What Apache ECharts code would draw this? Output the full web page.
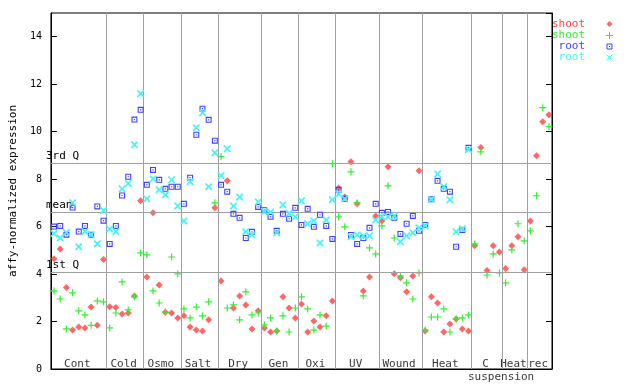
<!DOCTYPE html>
<html><head><meta charset="utf-8">
<script src="https://cdn.jsdelivr.net/npm/echarts@6/dist/echarts.min.js"></script>
<style>html,body{margin:0;padding:0;background:#fff}#c{width:640px;height:384px}</style>
</head><body><div id="c"></div>
<script>
// ---- data ----
const groupNames = ['Cont','Cold','Osmo','Salt','Dry','Gen','Oxi','UV','Wound','Heat','C','Heat','rec'];
const groupBounds = [0,9,15,21,27,34,40,46,53,60,68,73,77,81];
const quartileNames = ['3rd Q','mean','1st Q'];
const quartileValues = [8.69,6.62,4.09];
const yTickValues = [0,2,4,6,8,10,12,14];
const seriesNames = ['shoot','shoot','root','root'];

const shootRed = [4.65,5.06,3.43,1.64,1.77,1.73,2.61,1.84,4.61,
  2.62,2.59,2.32,2.36,3.08,7.09,
  3.88,6.58,3.54,2.39,2.36,2.15,
  2.24,1.77,1.64,1.60,2.07,6.79,
  3.71,7.93,2.57,3.08,2.70,1.69,2.45,
  1.73,1.56,1.60,3.04,2.57,2.15,
  2.74,1.56,2.02,1.77,2.24,2.87,
  7.63,7.25,8.73,6.96,3.29,3.88,6.45,
  6.24,8.52,4.01,3.84,3.25,3.92,8.35,
  1.60,3.04,2.78,1.56,1.90,2.11,1.69,1.60,
  5.19,9.33,4.15,5.19,4.93,
  4.23,5.19,5.57,4.18,
  6.24,8.98,10.42,10.71];
const shootGreen = [3.29,2.95,1.69,3.21,2.45,2.28,1.84,2.87,2.83,
  1.73,2.36,3.67,2.49,3.04,4.89,
  4.81,3.29,2.78,2.40,4.72,4.01,
  2.53,2.15,2.61,2.24,2.83,7.00,
  8.95,2.57,2.70,2.07,3.25,2.28,2.36,
  1.86,2.15,1.60,2.24,1.56,2.57,
  3.04,2.53,1.64,2.28,1.81,8.65,
  6.41,5.99,8.31,7.00,3.08,5.10,4.85,
  6.03,7.72,5.52,3.92,3.63,2.95,4.05,
  1.64,2.19,2.19,2.53,1.56,2.11,2.15,2.28,
  5.27,9.15,3.96,4.85,4.05,
  3.63,5.02,6.12,5.40,
  5.82,7.30,11.01,10.21];
const rootBlue = [6.00,6.03,5.66,6.80,5.79,6.03,5.66,6.85,6.25,
  5.27,6.03,7.31,8.10,10.51,10.92,
  7.76,8.39,7.97,7.59,7.68,7.68,
  6.96,8.06,9.87,10.97,10.50,9.62,
  7.76,7.47,6.54,6.37,5.52,5.78,6.83,
  6.69,6.41,5.82,6.54,6.33,6.79,
  6.07,6.75,5.99,6.50,6.03,5.48,
  7.55,7.17,5.65,5.27,5.52,5.95,6.96,
  6.58,6.62,6.37,5.69,6.12,6.45,5.82,
  6.07,7.15,7.93,7.59,7.47,5.15,5.86,9.32];
const rootCyan = [5.71,5.52,5.75,7.01,5.15,5.79,5.66,5.28,6.68,
  5.90,5.79,7.59,7.82,9.45,11.60,
  7.17,8.01,7.55,7.34,7.97,6.87,
  6.24,7.89,10.16,10.80,7.68,9.11,
  8.14,9.28,6.87,7.25,5.78,5.65,7.04,
  6.64,6.62,5.74,6.92,6.56,6.41,
  7.09,6.12,6.24,5.31,6.28,7.13,
  7.38,7.17,5.57,5.65,5.60,5.61,6.28,
  6.41,6.41,6.45,5.36,5.61,5.74,5.95,
  6.03,7.15,8.22,7.68,7.13,5.78,5.91,9.25];

// ---- styles ----
const FONT = 'DejaVu Sans Mono';
const colors = ['#ff4040','#33ee33','#4040ff','#44f4f4'];
const plusPath = 'path://M2.9,0H4.1V2.9H7V4.1H4.1V7H2.9V4.1H0V2.9H2.9Z';
const xPath = 'path://M0,0H1.2L3.5,2.3L5.8,0H7V1.2L4.7,3.5L7,5.8V7H5.8L3.5,4.7L1.2,7H0V5.8L2.3,3.5L0,1.2Z';
const sqPath = 'path://M0,0H6V6H0Z M1.1,1.1V4.9H4.9V1.1Z M2.4,2.4H3.6V3.6H2.4Z';
const diaPath = 'path://M3.5,0L7,3.5L3.5,7L0,3.5Z';
const symbols = [diaPath, plusPath, sqPath, xPath];
const symSizes = [7,7,6,7];
const seriesData = [shootRed, shootGreen, rootBlue, rootCyan];

const chart = echarts.init(document.getElementById('c'), null, {renderer:'canvas'});

const pointSeries = seriesData.map((arr,k)=>({
  type:'scatter', name: seriesNames[k] + '_' + k,
  data: arr.map((v,i)=>[i+0.5, v]),
  symbol: symbols[k], symbolSize: symSizes[k],
  itemStyle:{color: colors[k], opacity: k===0 ? 0.8 : 1},
  silent:true, animation:false, z: 3 + k
}));

const lineMarks = {
  type:'scatter', name:'frame', data:[], silent:true, animation:false, z:1,
  markLine:{
    silent:true, symbol:['none','none'], animation:false, precision:4,
    lineStyle:{color:'#a0a0a0', width:1, type:'solid'},
    data: groupBounds.slice(1,-1).map(b=>({xAxis:b, label:{show:false}}))
      .concat(quartileValues.map((v,k)=>({yAxis:v, label:{
        show:true, formatter: quartileNames[k], position:'insideStartTop',
        distance:[-5,1], color:'#000', fontFamily:FONT, fontSize:11, padding:0
      }})))
  }
};

const groupLabelSeries = {
  type:'scatter', name:'groups', silent:true, animation:false, clip:false, z:2,
  symbolSize:0,
  data: groupNames.map((n,k)=>({name:n, value:[(groupBounds[k]+groupBounds[k+1])/2, 0.22]}))
    .concat([{name:'suspension', value:[73.0, -0.33]}]),
  label:{show:true, position:'inside', formatter:'{b}', color:'#000', fontFamily:FONT, fontSize:11, offset:[-1.5,0]}
};

// legend drawn as graphic elements (duplicate series names)
const legendGraphics = [];
const legendY = [24, 35, 46, 57];
const mx = 609;
seriesNames.forEach((n,k)=>{
  const cy = legendY[k];
  legendGraphics.push({type:'text', x:585, y:cy, style:{text:n, fill:colors[k], font:'11px "'+FONT+'"', textAlign:'right', textVerticalAlign:'middle'}});
  if (k===0) legendGraphics.push({type:'polygon', shape:{points:[[mx+0.5,cy-3],[mx+3.5,cy],[mx+0.5,cy+3],[mx-2.5,cy]]}, style:{fill:colors[k], opacity:0.8}});
  if (k===1) {
    legendGraphics.push({type:'line', shape:{x1:mx-3,y1:cy+0.5,x2:mx+4,y2:cy+0.5}, style:{stroke:colors[k], lineWidth:1}});
    legendGraphics.push({type:'line', shape:{x1:mx+0.5,y1:cy-3,x2:mx+0.5,y2:cy+4}, style:{stroke:colors[k], lineWidth:1}});
  }
  if (k===2) {
    legendGraphics.push({type:'rect', shape:{x:mx-2,y:cy-2,width:5,height:5}, style:{fill:'none', stroke:colors[k], lineWidth:1}});
    legendGraphics.push({type:'rect', shape:{x:mx,y:cy,width:1,height:1}, style:{fill:colors[k]}});
  }
  if (k===3) {
    legendGraphics.push({type:'line', shape:{x1:mx-2.5,y1:cy-2.5,x2:mx+3.5,y2:cy+3.5}, style:{stroke:colors[k], lineWidth:1}});
    legendGraphics.push({type:'line', shape:{x1:mx+3.5,y1:cy-2.5,x2:mx-2.5,y2:cy+3.5}, style:{stroke:colors[k], lineWidth:1}});
  }
});

chart.setOption({
  animation:false,
  backgroundColor:'#fff',
  grid:{left:44, top:13, width:508, height:356, show:true, borderColor:'#000', borderWidth:1, backgroundColor:'transparent'},
  xAxis:{type:'value', min:0, max:81, axisLine:{show:true, onZero:false, lineStyle:{color:'#000'}}, axisTick:{show:false}, axisLabel:{show:false}, splitLine:{show:false}},
  yAxis:[{
    type:'value', min:0, max:15, interval:2, position:'left',
    name:'affy-normalized expression', nameLocation:'middle', nameGap:27, nameRotate:90,
    nameTextStyle:{fontFamily:FONT, fontSize:11, color:'#000'},
    axisLine:{show:true, lineStyle:{color:'#000'}},
    axisTick:{show:true, inside:true, length:6, lineStyle:{color:'#000'}},
    axisLabel:{show:true, showMaxLabel:false, margin:9, fontFamily:FONT, fontSize:10, color:'#000',
      formatter:v=> yTickValues.indexOf(v)>=0 ? String(v) : ''},
    splitLine:{show:false}
  },{
    type:'value', min:0, max:15, interval:2, position:'right',
    axisLine:{show:true, lineStyle:{color:'#000'}},
    axisTick:{show:true, inside:true, length:6, lineStyle:{color:'#000'}},
    axisLabel:{show:false}, splitLine:{show:false}
  }],
  series:[lineMarks, groupLabelSeries].concat(pointSeries),
  graphic: legendGraphics
});
</script>
</body></html>
